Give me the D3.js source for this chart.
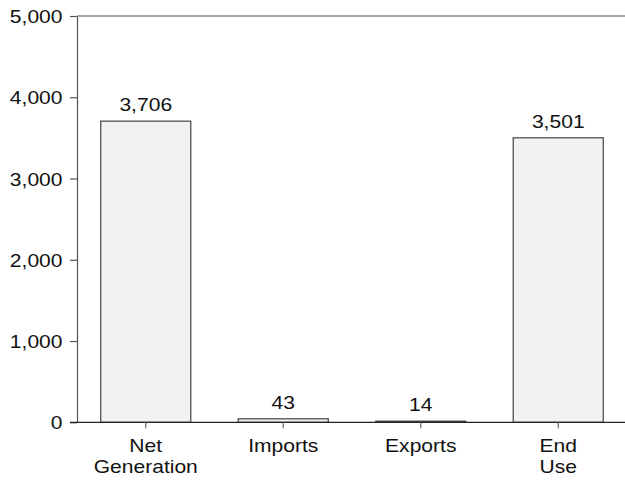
<!DOCTYPE html>
<html>
<head>
<meta charset="utf-8">
<script src="https://cdn.jsdelivr.net/npm/d3@7"></script>
<style>
  html, body { margin: 0; padding: 0; background: #fff; }
  svg { display: block; }
  text { font-family: "Liberation Sans", Arial, sans-serif; fill: #111; }
</style>
</head>
<body>
<svg id="chart" width="625" height="481"></svg>
<script>
const categories = [["Net", "Generation"], ["Imports"], ["Exports"], ["End", "Use"]];
const values = [3706, 43, 14, 3501];
const yTicks = [0, 1000, 2000, 3000, 4000, 5000];

(function () {
const W = 625, H = 481;
const pLeft = 77, pRight = 627, pTop = 16, pBottom = 422.3;
const FS = 18, SX = 1.17;

const svg = d3.select("#chart");
const keys = categories.map(c => c.join(" "));

const x = d3.scaleBand().domain(keys).range([pLeft, pRight]).paddingInner(0.345).paddingOuter(0.1725);
const y = d3.scaleLinear().domain([0, 5000]).range([pBottom, pTop]);

// top border line
svg.append("line")
  .attr("x1", pLeft).attr("x2", W)
  .attr("y1", y(5000)).attr("y2", y(5000))
  .attr("stroke", "#555").attr("stroke-width", 1.2);

// bars
svg.append("g").selectAll("rect").data(values).join("rect")
  .attr("x", (d, i) => x(keys[i]))
  .attr("y", d => y(d))
  .attr("width", x.bandwidth())
  .attr("height", d => pBottom - y(d))
  .attr("fill", "#f2f2f2")
  .attr("stroke", "#444")
  .attr("stroke-width", 1.2);

// value labels
svg.append("g").selectAll("text").data(values).join("text")
  .attr("transform", (d, i) => `translate(${x(keys[i]) + x.bandwidth() / 2},${y(d) - 10}) scale(${SX},1)`)
  .attr("text-anchor", "middle")
  .attr("font-size", FS)
  .text(d => d3.format(",")(d));

// y axis
const yAxis = svg.append("g")
  .attr("transform", `translate(${pLeft},0)`)
  .call(d3.axisLeft(y).tickValues(yTicks).tickSize(7).tickSizeOuter(0).tickFormat(d3.format(",")));
yAxis.select(".domain").attr("stroke", "#555").attr("stroke-width", 1.2);
yAxis.selectAll(".tick line").attr("stroke", "#555").attr("stroke-width", 1.2);
yAxis.selectAll(".tick text")
  .attr("font-size", FS).attr("font-family", null).attr("fill", "#111")
  .attr("x", -14.5 / SX).attr("dy", "0.36em")
  .attr("transform", `scale(${SX},1)`);

// x axis
const xAxis = svg.append("g")
  .attr("transform", `translate(0,${pBottom})`)
  .call(d3.axisBottom(x).tickSize(6).tickSizeOuter(0));
xAxis.select(".domain").attr("d", `M${pLeft - 7},0H${W}`).attr("stroke", "#222").attr("stroke-width", 1.2);
xAxis.selectAll(".tick line").attr("stroke", "#666").attr("stroke-width", 1.2);
xAxis.selectAll(".tick text").remove();
xAxis.selectAll(".tick").each(function (d, i) {
  const t = d3.select(this).append("text")
    .attr("text-anchor", "middle")
    .attr("font-size", FS)
    .attr("fill", "#111")
    .attr("transform", `scale(${SX},1)`)
    .attr("y", 29.4);
  categories[i].forEach((line, j) => {
    t.append("tspan").attr("x", 0).attr("dy", j === 0 ? 0 : 21.6).text(line);
  });
});
})();
</script>
</body>
</html>
